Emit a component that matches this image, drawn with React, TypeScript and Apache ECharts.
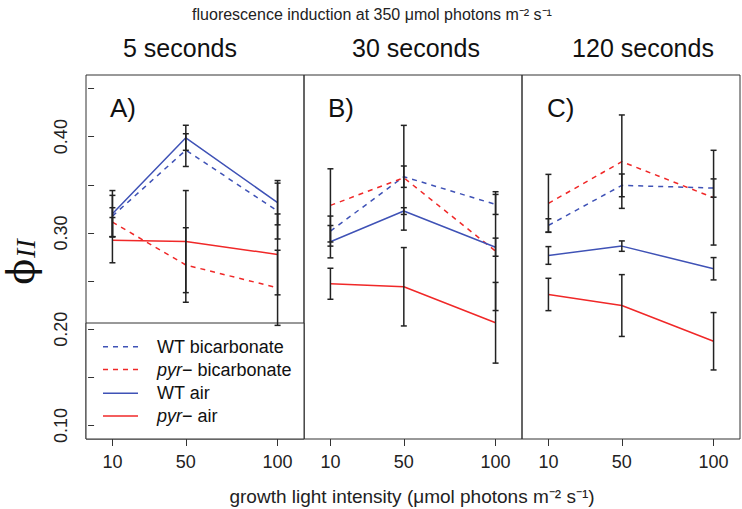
import React, { useEffect, useRef } from "react";
import * as echarts from "echarts";

// growth light intensity (x values)
const lightLevels = [10, 50, 100];

// Panel A: 5 seconds
const wtBic5 = [0.3175, 0.386, 0.3227];
const wtBic5Se = [0.0215, 0.017, 0.029];
const pyrBic5 = [0.3112, 0.2667, 0.243];
const pyrBic5Se = [0.015, 0.0387, 0.039];
const wtAir5 = [0.32, 0.3988, 0.3314];
const wtAir5Se = [0.024, 0.013, 0.023];
const pyrAir5 = [0.2925, 0.291, 0.2777];
const pyrAir5Se = [0.0235, 0.053, 0.042];

// Panel B: 30 seconds
const wtBic30 = [0.3019, 0.3584, 0.3296];
const wtBic30Se = [0.0156, 0.0111, 0.0104];
const pyrBic30 = [0.3286, 0.3573, 0.2811];
const pyrBic30Se = [0.038, 0.0544, 0.0617];
const wtAir30 = [0.2909, 0.3227, 0.2852];
const wtAir30Se = [0.0168, 0.0035, 0.0094];
const pyrAir30 = [0.2472, 0.2441, 0.2067];
const pyrAir30Se = [0.0161, 0.0407, 0.0419];

// Panel C: 120 seconds
const wtBic120 = [0.3078, 0.3494, 0.3466];
const wtBic120Se = [0.0069, 0.0118, 0.0095];
const pyrBic120 = [0.3307, 0.374, 0.3366];
const pyrBic120Se = [0.0301, 0.0485, 0.0492];
const wtAir120 = [0.2766, 0.2863, 0.2628];
const wtAir120Se = [0.0092, 0.0054, 0.0116];
const pyrAir120 = [0.2361, 0.2246, 0.1875];
const pyrAir120Se = [0.0168, 0.0321, 0.0298];

const yTicks = [0.1, 0.15, 0.2, 0.25, 0.3, 0.35, 0.4, 0.45];
const yLabels = [0.1, 0.2, 0.3, 0.4];
const panelTitles = ["5 seconds", "30 seconds", "120 seconds"];
const panelLetters = ["A)", "B)", "C)"];
const seriesNames = ["WT bicarbonate", "pyr− bicarbonate", "WT air", "pyr− air"];

const BLUE = "#3F52B6";
const RED = "#F02828";
const INK = "#222222";
const FONT = "'Liberation Sans', Arial, Helvetica, sans-serif";

const panels = [
  { means: [wtBic5, pyrBic5, wtAir5, pyrAir5], ses: [wtBic5Se, pyrBic5Se, wtAir5Se, pyrAir5Se] },
  { means: [wtBic30, pyrBic30, wtAir30, pyrAir30], ses: [wtBic30Se, pyrBic30Se, wtAir30Se, pyrAir30Se] },
  { means: [wtBic120, pyrBic120, wtAir120, pyrAir120], ses: [wtBic120Se, pyrBic120Se, wtAir120Se, pyrAir120Se] },
];

const seriesStyles = [
  { color: BLUE, type: [5, 5] as any },
  { color: RED, type: [5, 5] as any },
  { color: BLUE, type: "solid" as any },
  { color: RED, type: "solid" as any },
];

const GRID_LEFT = [86, 304, 522];
const GRID_W = 218;
const GRID_TOP = 75;
const GRID_H = 364;

export default function App() {
  const ref = useRef<HTMLDivElement>(null);
  useEffect(() => {
    if (!ref.current) return;
    const chart = echarts.init(ref.current, undefined, { renderer: "svg" });

    const grids = GRID_LEFT.map((l) => ({
      left: l,
      top: GRID_TOP,
      width: GRID_W,
      height: GRID_H,
      show: true,
      borderColor: "#333",
      borderWidth: 1,
      backgroundColor: "transparent",
    }));

    const xAxes = GRID_LEFT.map((_, i) => ({
      type: "value",
      gridIndex: i,
      min: -4.4,
      max: 114.4,
      axisLine: { show: false },
      splitLine: { show: false },
      axisTick: { show: true, length: 7, lineStyle: { color: "#333", width: 1 }, customValues: lightLevels },
      axisLabel: {
        show: true,
        customValues: lightLevels,
        fontSize: 18,
        fontFamily: FONT,
        color: INK,
        margin: 14,
      },
    }));

    const yAxes = GRID_LEFT.map((_, i) => ({
      type: "value",
      gridIndex: i,
      min: 0.086,
      max: 0.464,
      show: i === 0,
      axisLine: { show: false },
      splitLine: { show: false },
      axisTick: { show: i === 0, length: 6, lineStyle: { color: "#333", width: 1 }, customValues: yTicks },
      axisLabel: {
        show: i === 0,
        customValues: yLabels,
        rotate: 90,
        fontSize: 18,
        fontFamily: FONT,
        color: INK,
        margin: 16,
        formatter: (v: number) => v.toFixed(2),
      },
    }));

    const series: any[] = [];
    panels.forEach((p, pi) => {
      p.means.forEach((m, si) => {
        series.push({
          type: "line",
          name: seriesNames[si],
          xAxisIndex: pi,
          yAxisIndex: pi,
          data: lightLevels.map((x, k) => [x, m[k]]),
          symbol: "none",
          lineStyle: { color: seriesStyles[si].color, width: 1.5, type: seriesStyles[si].type },
          itemStyle: { color: seriesStyles[si].color },
          z: 2,
          silent: true,
        });
      });
      const ebData: number[][] = [];
      p.means.forEach((m, si) => {
        lightLevels.forEach((x, k) => ebData.push([x, m[k], p.ses[si][k]]));
      });
      series.push({
        type: "custom",
        name: "error bars " + pi,
        xAxisIndex: pi,
        yAxisIndex: pi,
        data: ebData,
        encode: { x: 0, y: 1 },
        z: 3,
        silent: true,
        renderItem: (params: any, api: any) => {
          const x = api.value(0);
          const mm = api.value(1);
          const s = api.value(2);
          const top = api.coord([x, mm + s]);
          const bot = api.coord([x, mm - s]);
          const hw = 3;
          const st = { stroke: INK, lineWidth: 1.5 };
          return {
            type: "group",
            children: [
              { type: "line", shape: { x1: top[0], y1: top[1], x2: bot[0], y2: bot[1] }, style: st },
              { type: "line", shape: { x1: top[0] - hw, y1: top[1], x2: top[0] + hw, y2: top[1] }, style: st },
              { type: "line", shape: { x1: bot[0] - hw, y1: bot[1], x2: bot[0] + hw, y2: bot[1] }, style: st },
            ],
          };
        },
      });
    });

    const titleCenters = [180, 416, 643];
    const graphics: any[] = [
      {
        type: "text",
        x: 372,
        y: 14,
        style: {
          text: "fluorescence induction at 350 μmol photons m⁻² s⁻¹",
          font: `16px ${FONT}`,
          fill: INK,
          align: "center",
          verticalAlign: "middle",
        },
      },
      ...panelTitles.map((t, i) => ({
        type: "text",
        x: titleCenters[i],
        y: 48,
        style: { text: t, font: `25px ${FONT}`, fill: "#111", align: "center", verticalAlign: "middle" },
      })),
      ...panelLetters.map((t, i) => ({
        type: "text",
        x: [110, 328, 547][i],
        y: 107.5,
        style: { text: t, font: `26px ${FONT}`, fill: "#111", align: "left", verticalAlign: "middle" },
      })),
      {
        type: "text",
        x: 412,
        y: 496,
        style: {
          text: "growth light intensity (μmol photons m⁻² s⁻¹)",
          font: `19px ${FONT}`,
          fill: INK,
          align: "center",
          verticalAlign: "middle",
        },
      },
      {
        type: "text",
        x: 21,
        y: 262,
        rotation: Math.PI / 2,
        style: {
          text: "{p|ϕ}{s|II}",
          align: "center",
          verticalAlign: "middle",
          fill: "#111",
          rich: {
            p: { fontSize: 38, lineHeight: 34, fontFamily: "'DejaVu Serif', serif", fill: "#111" },
            s: { fontSize: 28, lineHeight: 34, fontFamily: "'Liberation Serif', serif", fontStyle: "italic", fill: "#111", padding: [8, 0, 0, 1] },
          },
        },
      },
      // legend box
      {
        type: "group",
        z: 100,
        children: [
          {
            type: "rect",
            shape: { x: 86, y: 323, width: 218, height: 116 },
            style: { fill: "#fff", stroke: "#333", lineWidth: 1 },
          },
          ...seriesNames.map((n, i) => {
            const y = [346.7, 369.5, 393.3, 416][i];
            return {
              type: "line",
              shape: { x1: 103, y1: y, x2: 138, y2: y },
              style: {
                stroke: seriesStyles[i].color,
                lineWidth: 1.5,
                lineDash: i < 2 ? [5, 5] : null,
              },
            };
          }),
          ...seriesNames.map((n, i) => {
            const y = [346.7, 369.5, 393.3, 416][i];
            const isPyr = n.startsWith("pyr");
            return {
              type: "text",
              x: 157,
              y: y,
              style: {
                text: isPyr ? `{i|pyr}{n|${n.slice(3)}}` : `{n|${n}}`,
                verticalAlign: "middle",
                align: "left",
                rich: {
                  i: { fontSize: 18, fontFamily: FONT, fontStyle: "italic", fill: "#111" },
                  n: { fontSize: 18, fontFamily: FONT, fill: "#111" },
                },
              },
            };
          }),
        ],
      },
    ];

    chart.setOption({
      animation: false,
      backgroundColor: "#fff",
      grid: grids,
      xAxis: xAxes,
      yAxis: yAxes,
      series,
      graphic: graphics,
    });
    return () => chart.dispose();
  }, []);
  return (
    <div
      ref={ref}
      style={{ position: "fixed", left: 0, top: 0, width: 742, height: 509, background: "#fff" }}
    />
  );
}
